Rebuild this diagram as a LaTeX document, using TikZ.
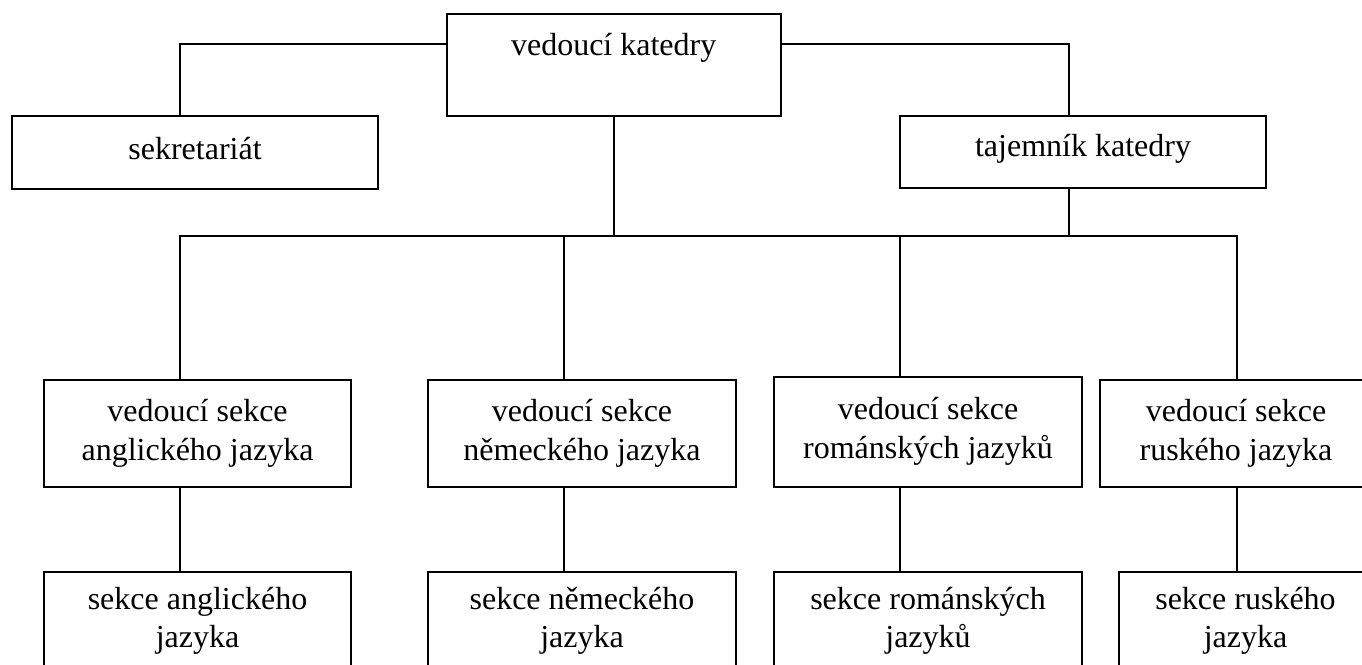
\documentclass[tikz,border=0pt]{standalone}
\usepackage{fontspec}
\setmainfont{Liberation Serif}
\begin{document}
\begin{tikzpicture}[x=1pt,y=-1pt,
  box/.style={draw,line width=2pt,inner sep=0pt,align=center,font=\fontsize{32}{39}\selectfont},
  boxl/.style={box,font=\fontsize{32}{37.5}\selectfont},
  conn/.style={line width=2pt}]
\clip (0,0) rectangle (1362,664);
% level 0 / 1
\node[box,minimum width=334pt,text height=41pt,text depth=61pt] (vk) at (613.7,65) {vedoucí katedry};
\node[box,minimum width=366pt,text height=43pt,text depth=30pt] (sek) at (195,152.5) {sekretariát};
\node[box,minimum width=366pt,text height=40pt,text depth=32pt] (taj) at (1083,152) {tajemník katedry};
% level 2
\node[box,minimum width=307pt,minimum height=107pt] (eng) at (197.5,433.5) {vedoucí sekce\\anglického jazyka};
\node[box,minimum width=308pt,minimum height=107pt] (ger) at (582,433.5) {vedoucí sekce\\německého jazyka};
\node[box,minimum width=308pt,minimum height=110pt] (rom) at (928,432) {vedoucí sekce\\románských jazyků\rule[-9pt]{0pt}{9pt}};
\node[box,minimum width=272pt,minimum height=107pt] (rus) at (1236,433.5) {vedoucí sekce\\ruského jazyka};
% level 3
\node[boxl,minimum width=307pt,minimum height=98pt] (eng3) at (197.5,621) {sekce anglického\\jazyka};
\node[boxl,minimum width=308pt,minimum height=98pt] (ger3) at (582,621) {sekce německého\\jazyka};
\node[boxl,minimum width=308pt,minimum height=98pt] (rom3) at (928,621) {sekce románských\\jazyků};
\node[boxl,minimum width=253pt,minimum height=98pt] (rus3) at (1245.5,621) {sekce ruského\\jazyka};
% connectors
\coordinate (tl) at (180,44);
\coordinate (tr) at (1069,44);
\coordinate (bl) at (180,236);
\coordinate (bg) at (564,236);
\coordinate (bro) at (900,236);
\coordinate (br) at (1237,236);
\draw[conn] (vk.west |- tl) -- (tl) -- (tl |- sek.north);
\draw[conn] (vk.east |- tr) -- (tr) -- (tr |- taj.north);
\draw[conn] (vk.south) -- (vk.south |- bl);
\draw[conn] (tr |- taj.south) -- (tr |- bl);
\draw[conn] (bl |- eng.north) -- (bl) -- (br) -- (br |- rus.north);
\draw[conn] (bg) -- (bg |- ger.north);
\draw[conn] (bro) -- (bro |- rom.north);
\draw[conn] (bl |- eng.south) -- (bl |- eng3.north);
\draw[conn] (bg |- ger.south) -- (bg |- ger3.north);
\draw[conn] (bro |- rom.south) -- (bro |- rom3.north);
\draw[conn] (br |- rus.south) -- (br |- rus3.north);
\end{tikzpicture}
\end{document}
